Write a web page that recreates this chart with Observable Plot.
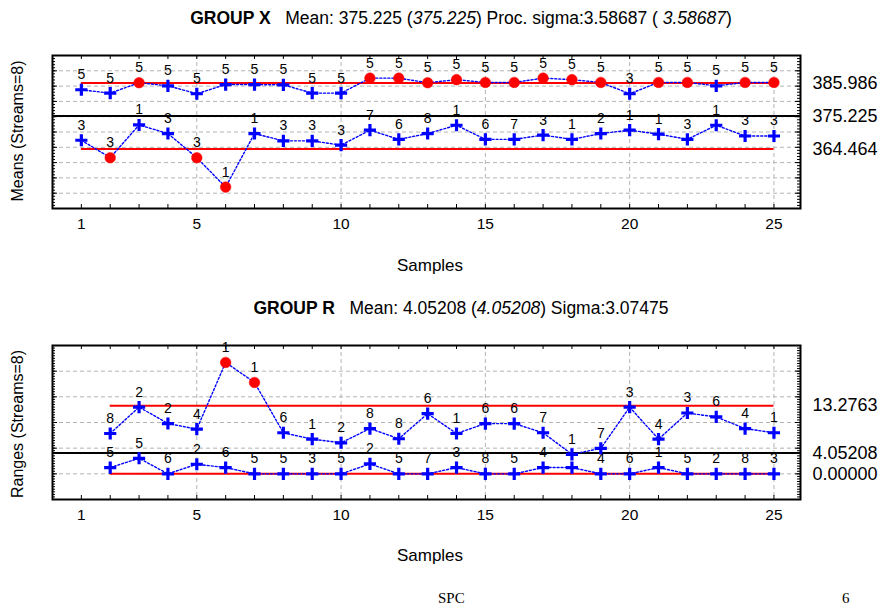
<!DOCTYPE html>
<html><head><meta charset="utf-8">
<script src="https://cdn.jsdelivr.net/npm/d3@7"></script>
<script src="https://cdn.jsdelivr.net/npm/@observablehq/plot@0.6"></script>
<style>
body{margin:0;background:#fff;font-family:"Liberation Sans",Arial,sans-serif;}
#wrap{position:relative;width:889px;height:608px;overflow:hidden;background:#fff;}
.abs{position:absolute;white-space:pre;color:#000;line-height:1;}
.title{font-size:17.5px;left:461px;transform:translateX(-50%);}
.ylab{font-size:16px;width:220px;text-align:center;transform:rotate(-90deg);}
.xlab{font-size:17px;width:200px;text-align:center;}
.foot{font-family:"Liberation Serif","Times New Roman",serif;font-size:15px;}
</style></head><body><div id="wrap"></div>
<script>
// ---- Group X chart data ----
const xSamples = [1,2,3,4,5,6,7,8,9,10,11,12,13,14,15,16,17,18,19,20,21,22,23,24,25];
const xMaxValues = [383.8,382.7,386.1,385.1,382.5,385.5,385.5,385.4,382.7,382.7,387.6,387.6,386.1,387.1,386.2,386.2,387.6,387.1,386.2,382.5,386.2,386.2,385.1,386.2,386.2];
const xMaxStreams = [5,5,5,5,5,5,5,5,5,5,5,5,5,5,5,5,5,5,5,3,5,5,5,5,5];
const xMinValues = [367.3,361.6,372.3,369.5,361.6,352.0,369.5,367.1,367.1,365.7,370.6,367.6,369.5,372.2,367.6,367.6,369.0,367.6,369.5,370.6,369.3,367.6,372.2,368.7,368.7];
const xMinStreams = [3,3,1,3,3,1,1,3,3,3,7,6,8,1,6,7,3,1,2,1,1,3,1,3,3];
const xCL = 375.225, xUCL = 385.986, xLCL = 364.464;
const xRightTicks = [385.986, 375.225, 364.464];
const xRightLabels = ["385.986", "375.225", "364.464"];
const xGridY = [350,355,360,365,370,375,380,385,390];

// ---- Group R chart data ----
const rSamples = [2,3,4,5,6,7,8,9,10,11,12,13,14,15,16,17,18,19,20,21,22,23,24,25];
const rMaxValues = [7.86,13.0,9.8,8.7,21.7,17.8,8.0,6.76,6.05,8.82,6.83,11.72,7.86,9.79,9.79,8.0,3.8,4.96,13.0,6.76,11.85,11.08,8.82,8.0];
const rMaxStreams = [8,2,2,4,1,1,6,1,2,8,8,6,1,6,6,7,1,7,3,4,3,6,4,1];
const rMinValues = [1.22,3.03,0,1.87,1.22,0,0,0,0,1.93,0,0,1.22,0,0,1.22,1.22,0,0,1.22,0,0,0,0];
const rMinStreams = [5,5,6,2,6,5,5,3,5,2,5,7,3,8,5,4,null,4,6,1,5,2,8,3];
const rCL = 4.05208, rUCL = 13.2763, rLCL = 0;
const rRightTicks = [13.2763, 4.05208, 0];
const rRightLabels = ["13.2763", "4.05208", "0.00000"];
const rGridY = [0,5,10,15,20];

// shared axis
const xTickLabels = [1,5,10,15,20,25];
const xGridX = [5,10,15,20,25];
const frameTicksX = [1,2,3,4,5,6,7,8,9,10,11,12,13,14,15,16,17,18,19,20,21,22,23,24,25];

const W = 889, ML = 52, MR = 889 - 800;

function makeChart(o) {
  const fw = W - ML - MR;
  const fh = o.height - o.marginTop - o.marginBottom;
  const rows = [];
  o.samples.forEach((s, i) => {
    rows.push({sample: s, value: o.maxV[i], stream: o.maxS[i], series: "max"});
    rows.push({sample: s, value: o.minV[i], stream: o.minS[i], series: "min"});
  });
  const out = d => d.value > o.ucl || d.value < o.lcl;
  const minor = d3.range(o.yDomain[0], o.yDomain[1] + 1e-9, o.minorStep);
  const major = minor.filter(v => Math.abs(v / 5 - Math.round(v / 5)) < 1e-9);
  const grid = {stroke: "#b4b4b4", strokeDasharray: "4,3", strokeWidth: 1};
  return Plot.plot({
    width: W, height: o.height,
    marginLeft: ML, marginRight: MR, marginTop: o.marginTop, marginBottom: o.marginBottom,
    x: {domain: [0, 25.92], axis: null},
    y: {domain: o.yDomain, axis: null},
    style: {fontFamily: "Liberation Sans, Arial, sans-serif", fontSize: "14px", background: "transparent", color: "black", overflow: "visible"},
    marks: [
      Plot.ruleX(xGridX, {x: d => d, ...grid}),
      Plot.ruleY(o.gridY, {y: d => d, ...grid}),
      Plot.ruleY([o.cl], {y: d => d, stroke: "black", strokeWidth: 2}),
      Plot.ruleY([o.ucl, o.lcl], {y: d => d, x1: o.samples[0], x2: o.samples[o.samples.length - 1], stroke: "#ff0000", strokeWidth: 2}),
      Plot.line(rows, {x: "sample", y: "value", z: "series", stroke: "#0000ff", strokeWidth: 1.4, strokeDasharray: "2,2"}),
      Plot.text(rows.filter(d => d.stream != null), {x: "sample", y: "value", text: d => String(d.stream), dy: -15, fontSize: 14, fill: "black"}),
      Plot.dot(rows.filter(d => !out(d)), {x: "sample", y: "value", symbol: "plus", stroke: "#0000ff", strokeWidth: 3.2, r: 4}),
      Plot.dot(rows.filter(out), {x: "sample", y: "value", fill: "#ff0000", stroke: "#ff0000", strokeWidth: 0.5, r: 5.3}),
      Plot.ruleX(frameTicksX, {x: d => d, insetBottom: fh - 4, stroke: "black"}),
      Plot.ruleX(frameTicksX, {x: d => d, insetTop: fh - 4, stroke: "black"}),
      Plot.ruleY(minor, {y: d => d, insetRight: fw - 3, stroke: "black"}),
      Plot.ruleY(major, {y: d => d, insetRight: fw - 5, stroke: "black"}),
      Plot.ruleY(minor, {y: d => d, insetLeft: fw - 3, stroke: "black"}),
      Plot.ruleY(major, {y: d => d, insetLeft: fw - 5, stroke: "black"}),
      Plot.frame({stroke: "black", strokeWidth: 2}),
      Plot.text(o.rightTicks, {y: d => d, text: (d, i) => o.rightLabels[i], frameAnchor: "right", textAnchor: "start", dx: 12, fontSize: 18, fill: "black"}),
      Plot.text(xTickLabels, {x: d => d, text: d => String(d), frameAnchor: "bottom", dy: 20, fontSize: 15.5, fill: "black"})
    ]
  });
}

const wrap = document.getElementById("wrap");
function place(el, top) {
  const d = document.createElement("div");
  d.style.position = "absolute"; d.style.left = "0px"; d.style.top = top + "px";
  d.appendChild(el); wrap.appendChild(d);
}
function addText(html, cls, css) {
  const d = document.createElement("div");
  d.className = "abs " + cls; d.innerHTML = html;
  Object.assign(d.style, css); wrap.appendChild(d);
}

place(makeChart({
  height: 290, marginTop: 55, marginBottom: 290 - 208,
  yDomain: [345, 395], minorStep: 1, gridY: xGridY,
  cl: xCL, ucl: xUCL, lcl: xLCL,
  samples: xSamples, maxV: xMaxValues, maxS: xMaxStreams, minV: xMinValues, minS: xMinStreams,
  rightTicks: xRightTicks, rightLabels: xRightLabels
}), 0);

place(makeChart({
  height: 318, marginTop: 55, marginBottom: 318 - 209,
  yDomain: [-5, 25], minorStep: 0.5, gridY: rGridY,
  cl: rCL, ucl: rUCL, lcl: rLCL,
  samples: rSamples, maxV: rMaxValues, maxS: rMaxStreams, minV: rMinValues, minS: rMinStreams,
  rightTicks: rRightTicks, rightLabels: rRightLabels
}), 290);

addText("<b>GROUP X</b>   Mean: 375.225 (<i>375.225</i>) Proc. sigma:3.58687 ( <i>3.58687</i>)", "title", {top: "10px"});
addText("<b>GROUP R</b>   Mean: 4.05208 (<i>4.05208</i>) Sigma:3.07475", "title", {top: "300px"});
addText("Means (Streams=8)", "ylab", {left: (18 - 110) + "px", top: (131 - 8) + "px"});
addText("Ranges (Streams=8)", "ylab", {left: (18 - 110) + "px", top: (424 - 8) + "px"});
addText("Samples", "xlab", {left: (430 - 100) + "px", top: (265 - 8) + "px"});
addText("Samples", "xlab", {left: (430 - 100) + "px", top: (555 - 8) + "px"});
addText("SPC", "foot", {left: "438px", top: "591px"});
addText("6", "foot", {left: "842px", top: "591px"});
</script></body></html>
